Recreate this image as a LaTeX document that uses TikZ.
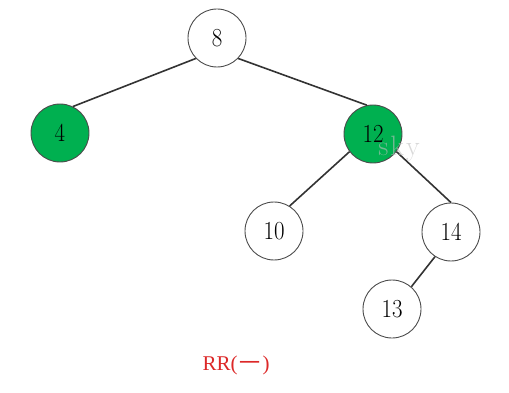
\documentclass[tikz,border=0pt]{standalone}
\usepackage{fontspec}
\newfontfamily\cjk{Noto Sans CJK SC}
\newfontfamily\lblfont{Liberation Serif}
\definecolor{nodegreen}{HTML}{00B050}
\definecolor{labelred}{HTML}{DC2828}
\begin{document}
\begin{tikzpicture}[x=1pt,y=-1pt,
  tnode/.style={circle,draw=black!70,line width=0.9pt,minimum size=58pt,inner sep=0pt,font=\fontsize{26}{26}\selectfont},
  gnode/.style={tnode,fill=nodegreen},
  edge/.style={draw=black!80,line width=1.6pt}]
\useasboundingbox (0,0) rectangle (509,393);
\node[tnode] (n8) at (217,38) {\scalebox{0.88}[1]{8}};
\node[gnode] (n4) at (60,133) {\scalebox{0.88}[1]{4}};
\node[gnode] (n12) at (373,134) {\scalebox{0.88}[1]{12}};
\node[tnode] (n10) at (274,231) {\scalebox{0.88}[1]{10}};
\node[tnode] (n14) at (451,232) {\scalebox{0.88}[1]{14}};
\node[tnode] (n13) at (392,309) {\scalebox{0.88}[1]{13}};
\draw[edge] (n8.224) -- (n4.64);
\draw[edge] (n8.316) -- (n12.102);
\draw[edge] (n12.217) -- (n10.58);
\draw[edge] (n12.323) -- (n14.90);
\draw[edge] (n14.237) -- (n13.49);
\node[text=black!25,text opacity=0.6,inner sep=0pt,font=\fontsize{28}{28}\selectfont] (wm) at (399,149) {s\kern2pt k\kern2pt y};
\node[text=labelred,inner sep=0pt,font=\lblfont\fontsize{21}{21}\selectfont] (lbl) at (236,365) {RR(\kern2pt{\cjk 一}\kern2pt)};
\end{tikzpicture}
\end{document}
